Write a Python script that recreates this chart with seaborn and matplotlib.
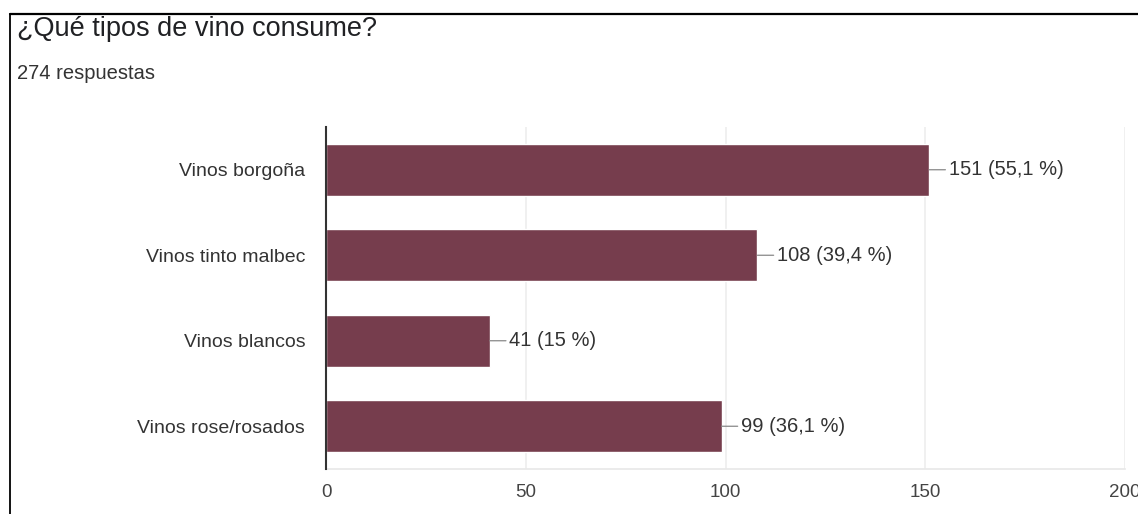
import matplotlib
matplotlib.use("Agg")
import matplotlib.pyplot as plt
from matplotlib.lines import Line2D
import seaborn as sns
import pandas as pd

categories = ["Vinos borgoña", "Vinos tinto malbec", "Vinos blancos", "Vinos rose/rosados"]
counts = [151, 108, 41, 99]
total_responses = 274
x_ticks = [0, 50, 100, 150, 200]

sns.set_theme(style="white")
plt.rcParams['font.family'] = ['Liberation Sans', 'DejaVu Sans']

df = pd.DataFrame({"tipo": categories, "n": counts})

fig = plt.figure(figsize=(11.38, 5.14), dpi=100)
ax = fig.add_axes([326/1138, 1-469/514, (1125-326)/1138, 342/514])

sns.barplot(data=df, y="tipo", x="n", orient="h", color="#763D4D",
            saturation=1, width=0.61, ax=ax, zorder=3)

ax.set_xlim(0, 200)
ax.set_ylim(3.5, -0.5)
ax.set_xticks(x_ticks)
ax.set_xticklabels([str(t) for t in x_ticks])
ax.set_xlabel("")
ax.set_ylabel("")
for t in x_ticks[1:]:
    ax.axvline(t, color="#eeeeee", lw=1.2, zorder=0)

for s in ["top", "right"]:
    ax.spines[s].set_visible(False)
ax.spines["left"].set_color("#333333")
ax.spines["left"].set_linewidth(1.5)
ax.spines["left"].set_zorder(5)
ax.spines["bottom"].set_color("#e8e8e8")
ax.spines["bottom"].set_linewidth(1.2)

ax.tick_params(axis="y", length=0, pad=15, labelsize=14, labelcolor="#333333")
ax.tick_params(axis="x", length=0, pad=11, labelsize=13.5, labelcolor="#444444")

for i, v in enumerate(counts):
    p = v / total_responses * 100
    ps = f"{p:.1f}".replace(".", ",")
    if ps.endswith(",0"):
        ps = ps[:-2]
    ax.annotate(f"{v} ({ps} %)", xy=(v, i), xytext=(14, 0), textcoords="offset points",
                ha="left", va="center", fontsize=14.5, color="#333333",
                arrowprops=dict(arrowstyle="-", color="#888888", lw=0.9,
                                shrinkA=0, shrinkB=0, relpos=(0, 0.5)))

fig.text(17/1138, 1-36/514, "¿Qué tipos de vino consume?", fontsize=19.5,
         color="#202124", ha="left", va="baseline")
fig.text(17/1138, 1-79/514, "274 respuestas", fontsize=14.5,
         color="#333333", ha="left", va="baseline")

fig.add_artist(Line2D([10/1138, 1], [1-14/514, 1-14/514], color="black", lw=1.6))
fig.add_artist(Line2D([10/1138, 10/1138], [0, 1-14/514], color="black", lw=1.3))

fig.savefig("out.png", dpi=100)
